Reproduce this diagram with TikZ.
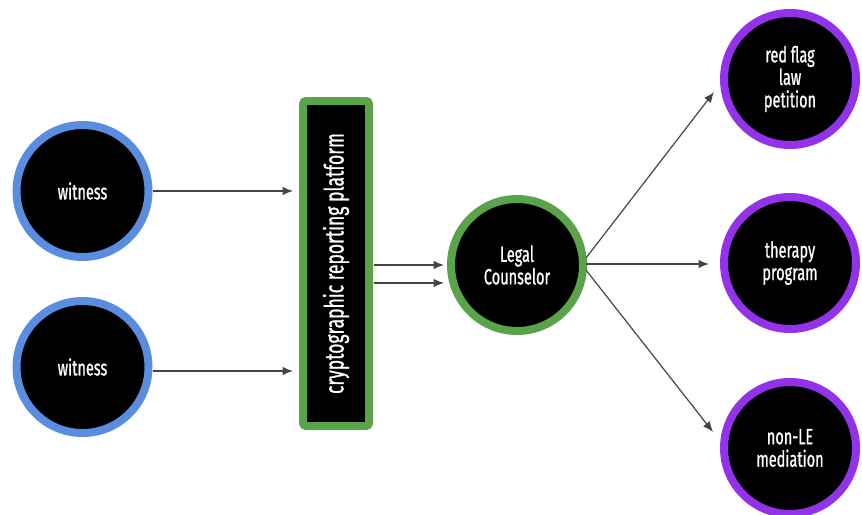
\documentclass[tikz,border=0pt]{standalone}
\usepackage{fontspec}
\setmainfont{Fira Sans}[FakeStretch=0.66,FakeBold=0.8]
\usetikzlibrary{arrows.meta,calc}
\definecolor{wblue}{HTML}{5A8DE0}
\definecolor{pgreen}{HTML}{5AA34A}
\definecolor{opurple}{HTML}{9233EA}
\definecolor{arrgray}{HTML}{444444}
\tikzset{
  x=1pt,y=-1pt,
  bubble/.style={circle,fill=black,line width=8pt,minimum size=132pt,inner sep=0pt,
    text=white,align=center,font=\fontsize{22}{22.5}\selectfont},
  arr/.style={draw=arrgray,line width=1.2pt,-{Latex[length=10.5pt,width=8.5pt]}},
}
\begin{document}
\begin{tikzpicture}
\useasboundingbox (0,0) rectangle (862,514);
\node[bubble,draw=wblue] (w1) at (82.5,191) {witness};
\node[bubble,draw=wblue] (w2) at (82.5,367) {witness};
\node[draw=pgreen,fill=black,line width=8pt,rounded corners=3pt,
      minimum width=66pt,minimum height=325pt,inner sep=0pt] (plat) at (336,263.5) {};
\node[text=white,rotate=90,font=\fontsize{26.5}{27}\selectfont] (platlbl) at (plat.center) {cryptographic reporting platform};
\node[bubble,draw=pgreen] (legal) at (517,265) {Legal\\Counselor};
\node[bubble,draw=opurple] (red) at (790,79) {red flag\\law\\petition};
\node[bubble,draw=opurple] (ther) at (790,263) {therapy\\program};
\node[bubble,draw=opurple] (nonle) at (790,448) {non-LE\\mediation};

\draw[arr] (w1.east) -- ([xshift=-6pt]w1.east -| plat.west);
\draw[arr] ([yshift=-4pt]w2.east) -- ([xshift=-6pt,yshift=-4pt]w2.east -| plat.west);
\draw[arr] ([xshift=1pt]plat.east |- legal.center) -- ([xshift=-3pt]legal.west);
\draw[arr] ([xshift=1pt,yshift=-18pt]plat.east |- legal.center) -- ([xshift=-3pt,yshift=-18pt]legal.west);
\draw[arr] ([xshift=-1pt,yshift=7pt]legal.east) -- ([xshift=-6pt,yshift=-13pt]red.west);
\draw[arr] ([xshift=-1pt,yshift=1pt]legal.east) -- ([xshift=-11pt,yshift=-1pt]ther.west);
\draw[arr] ([xshift=-1pt,yshift=-5pt]legal.east) -- ([xshift=-7pt,yshift=16pt]nonle.west);
\end{tikzpicture}
\end{document}
